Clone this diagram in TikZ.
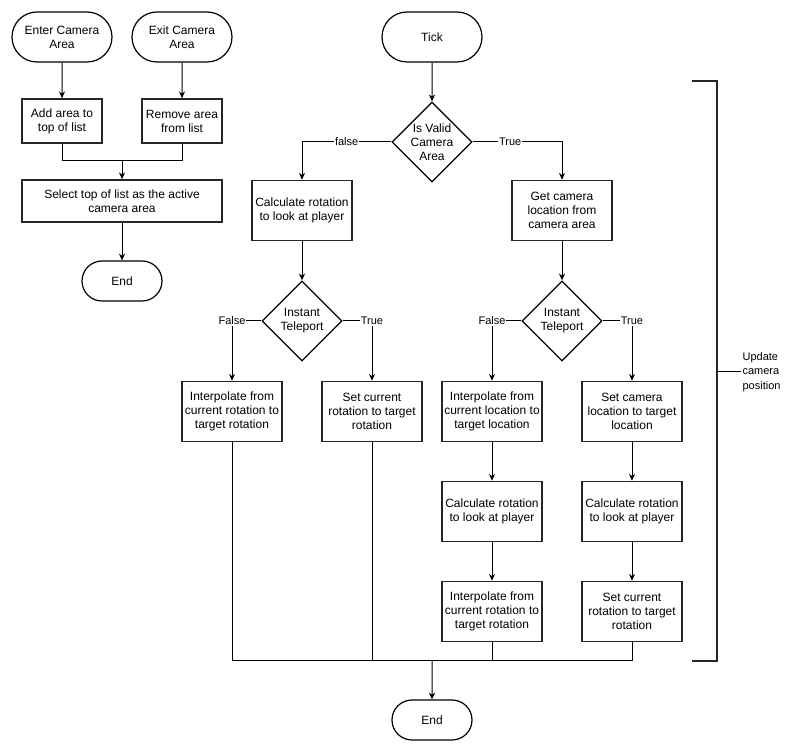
\documentclass[tikz,border=0pt]{standalone}
\usepackage{fontspec}
\setmainfont{Liberation Sans}
\usetikzlibrary{shapes.geometric,shapes.misc,arrows.meta}
\begin{document}
\begin{tikzpicture}[x=0.75pt,y=-0.75pt,
  font=\fontsize{9}{10.5}\selectfont,
  term/.style={rounded rectangle, draw, line width=0.9pt, fill=white, minimum width=75pt, minimum height=37.5pt, inner sep=0pt, align=center},
  proc/.style={rectangle, draw=black!85, line width=1.2pt, fill=white, minimum width=75pt, minimum height=45pt, inner sep=0pt, align=center},
  decision/.style={diamond, draw, line width=1pt, fill=white, minimum width=60pt, minimum height=60pt, inner sep=0pt},
  arrow/.style={-{Stealth[length=5pt,width=4.5pt,inset=1.5pt]}, line width=0.75pt},
  line/.style={line width=0.75pt},
  elabel/.style={fill=white, inner sep=0.6pt, font=\fontsize{8.25}{9.5}\selectfont}
]
\useasboundingbox (0,0) rectangle (794,752);

% left flow
\node[term] (enter) at (62,37) {Enter Camera\\Area};
\node[term] (exit) at (182,37) {Exit Camera\\Area};
\node[proc, minimum width=60pt, minimum height=33pt] (add) at (62,121) {Add area to\\top of list};
\node[proc, minimum width=60pt, minimum height=33pt] (remove) at (182,121) {Remove area\\from list};
\coordinate (m1) at (122,161);
\node[proc, minimum width=150pt, minimum height=31.5pt] (select) at (122,201) {Select top of list as the active\\camera area};
\node[term, minimum width=60pt, minimum height=30pt] (end1) at (122,281) {End};

\draw[arrow] (enter) -- (add);
\draw[arrow] (exit) -- (remove);
\draw[line] (add.south) |- (m1);
\draw[line] (remove.south) |- (m1);
\draw[arrow] (m1) -- (select);
\draw[arrow] (select) -- (end1);

% tick flow
\node[term] (tick) at (432,37) {Tick};
\node[decision, label={[align=center]center:Is Valid\\Camera\\Area}] (dec1) at (432,142) {};
\node[proc] (calc1) at (302,210.5) {Calculate rotation\\to look at player};
\node[proc] (get) at (562,210.5) {Get camera\\location from\\camera area};
\node[decision, label={[align=center]center:Instant\\Teleport}] (dec2) at (302,321) {};
\node[decision, label={[align=center]center:Instant\\Teleport}] (dec3) at (562,321) {};
\node[proc] (interp1) at (232,411.5) {Interpolate from\\current rotation to\\target rotation};
\node[proc] (set1) at (372,411.5) {Set current\\rotation to target\\rotation};
\node[proc] (interp2) at (492,411.5) {Interpolate from\\current location to\\target location};
\node[proc] (set2) at (632,411.5) {Set camera\\location to target\\location};
\node[proc] (calc2) at (492,511.5) {Calculate rotation\\to look at player};
\node[proc] (calc3) at (632,511.5) {Calculate rotation\\to look at player};
\node[proc] (interp3) at (492,611.5) {Interpolate from\\current rotation to\\target rotation};
\node[proc] (set3) at (632,611.5) {Set current\\rotation to target\\rotation};
\coordinate (m2) at (432,661);
\node[term, minimum width=60pt, minimum height=30pt] (end2) at (432,720) {End};

\draw[arrow] (tick) -- (dec1);
\draw[arrow] (dec1.west) -| node[elabel, pos=0.25] (lf1) {false} (calc1.north);
\draw[arrow] (dec1.east) -| node[elabel, pos=0.21] (lt1) {True} (get.north);
\draw[arrow] (calc1) -- (dec2);
\draw[arrow] (get) -- (dec3);
\draw[arrow] (dec2.west) -| node[elabel, pos=0.5] (lf2) {False} (interp1.north);
\draw[arrow] (dec2.east) -| node[elabel, pos=0.5] (lt2) {True} (set1.north);
\draw[arrow] (dec3.west) -| node[elabel, pos=0.5] (lf3) {False} (interp2.north);
\draw[arrow] (dec3.east) -| node[elabel, pos=0.5] (lt3) {True} (set2.north);
\draw[arrow] (interp2) -- (calc2);
\draw[arrow] (calc2) -- (interp3);
\draw[arrow] (set2) -- (calc3);
\draw[arrow] (calc3) -- (set3);

\draw[line] (interp1.south) |- (set3.south |- m2) -- (set3.south);
\draw[line] (set1.south) -- (set1.south |- m2);
\draw[line] (interp3.south) -- (interp3.south |- m2);
\draw[arrow] (m2) -- (end2);

% bracket
\coordinate (b1) at (692,81);
\coordinate (b2) at (717,81);
\coordinate (b3) at (717,661);
\coordinate (b4) at (692,661);
\coordinate (bs) at (717,372);
\coordinate (be) at (741,372);
\draw[line width=1.5pt, black!85] (b1) -- (b2) -- (b3) -- (b4);
\draw[line] (bs) -- (be);
\node[anchor=west, align=left, inner sep=1pt, font=\fontsize{8.25}{11}\selectfont] (upd) at (be) {Update\\camera\\position};
\end{tikzpicture}
\end{document}
